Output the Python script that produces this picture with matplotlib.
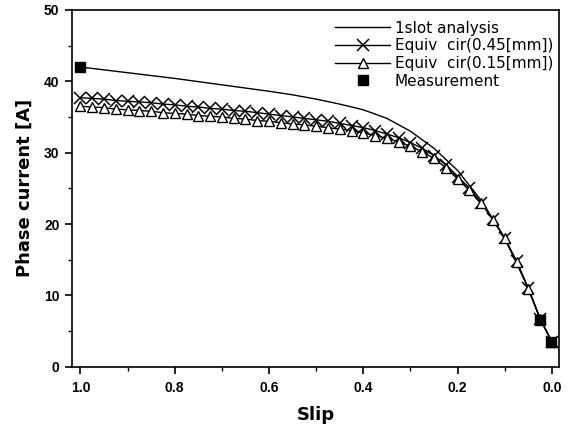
import matplotlib
matplotlib.use("Agg")
import matplotlib.pyplot as plt
from matplotlib.ticker import MultipleLocator

plt.rcParams['font.family'] = ['Liberation Sans', 'DejaVu Sans']

# 1slot analysis (solid line only)
slot_slip = [1.0, 0.9, 0.8, 0.7, 0.6, 0.55, 0.5, 0.45, 0.4, 0.35, 0.3, 0.25,
             0.2, 0.15, 0.1, 0.05, 0.025, 0.0]
slot_cur = [42.0, 41.2, 40.4, 39.5, 38.6, 38.1, 37.5, 36.8, 36.0, 34.8, 33.0,
            30.6, 27.5, 23.3, 18.0, 11.0, 6.7, 3.5]

# equivalent circuit results, one point every 0.025 slip
eq_slip = [1.0, 0.975, 0.95, 0.925, 0.9, 0.875, 0.85, 0.825, 0.8, 0.775,
           0.75, 0.725, 0.7, 0.675, 0.65, 0.625, 0.6, 0.575, 0.55, 0.525,
           0.5, 0.475, 0.45, 0.425, 0.4, 0.375, 0.35, 0.325, 0.3, 0.275,
           0.25, 0.225, 0.2, 0.175, 0.15, 0.125, 0.1, 0.075, 0.05, 0.025, 0.0]
eq045_cur = [37.7, 37.6, 37.5, 37.3, 37.2, 37.1, 37.0, 36.8, 36.7, 36.5,
             36.4, 36.2, 36.1, 35.9, 35.8, 35.6, 35.4, 35.2, 35.0, 34.8,
             34.6, 34.4, 34.1, 33.8, 33.5, 33.1, 32.6, 32.1, 31.4, 30.6,
             29.6, 28.3, 26.6, 25.0, 23.0, 20.7, 18.0, 14.8, 11.0, 6.7, 3.5]
eq015_cur = [36.5, 36.4, 36.3, 36.1, 36.0, 35.9, 35.8, 35.6, 35.5, 35.4,
             35.2, 35.1, 35.0, 34.8, 34.7, 34.5, 34.4, 34.2, 34.0, 33.9,
             33.7, 33.5, 33.3, 33.1, 32.8, 32.4, 32.0, 31.5, 30.9, 30.1,
             29.2, 27.9, 26.3, 24.7, 22.9, 20.6, 18.0, 14.7, 10.9, 6.7, 3.5]

# measured points
meas_slip = [1.0, 0.025, 0.003]
meas_cur = [42.0, 6.6, 3.5]

fig = plt.figure(figsize=(5.71, 4.30), dpi=100)
ax = fig.add_axes([0.126, 0.147, 0.853, 0.830])

ax.plot(slot_slip, slot_cur, color='black', lw=1.0, label='1slot analysis')
ax.plot(eq_slip, eq045_cur, color='black', lw=1.0, marker='x', ms=8,
        mew=1.1, label='Equiv  cir(0.45[mm])')
ax.plot(eq_slip, eq015_cur, color='black', lw=1.0, marker='^', ms=7,
        mfc='white', mec='black', mew=1.0, label='Equiv  cir(0.15[mm])')
ax.plot(meas_slip, meas_cur, ls='none', marker='s', ms=7.5, color='black',
        label='Measurement')

ax.set_xlim(1.018, -0.015)
ax.set_ylim(0, 50)
ax.xaxis.set_minor_locator(MultipleLocator(0.1))
ax.yaxis.set_major_locator(MultipleLocator(10))
ax.yaxis.set_minor_locator(MultipleLocator(5))
ax.set_xticks([1.0, 0.8, 0.6, 0.4, 0.2, 0.0])
ax.set_xticklabels(['1.0', '0.8', '0.6', '0.4', '0.2', '0.0'])
ax.tick_params(which='major', direction='out', length=5, width=1.2,
               labelsize=10)
ax.tick_params(axis='x', pad=5)
ax.tick_params(axis='y', pad=4)
ax.tick_params(which='minor', direction='out', length=3, width=1.0)
for lab in ax.get_xticklabels() + ax.get_yticklabels():
    lab.set_fontweight('bold')
for sp in ax.spines.values():
    sp.set_linewidth(1.2)

ax.set_xlabel('Slip', fontsize=13, fontweight='bold', labelpad=8,
              family='DejaVu Sans')
ax.set_ylabel('Phase current [A]', fontsize=13, fontweight='bold',
              labelpad=7, family='DejaVu Sans')

ax.legend(loc='upper right', frameon=False, handlelength=3.6,
          handletextpad=0.3, labelspacing=0.18, borderaxespad=0.3,
          numpoints=1, bbox_to_anchor=(1.01, 1.0),
          prop={'family': 'DejaVu Sans', 'size': 11})

fig.savefig('out.png', dpi=100)
